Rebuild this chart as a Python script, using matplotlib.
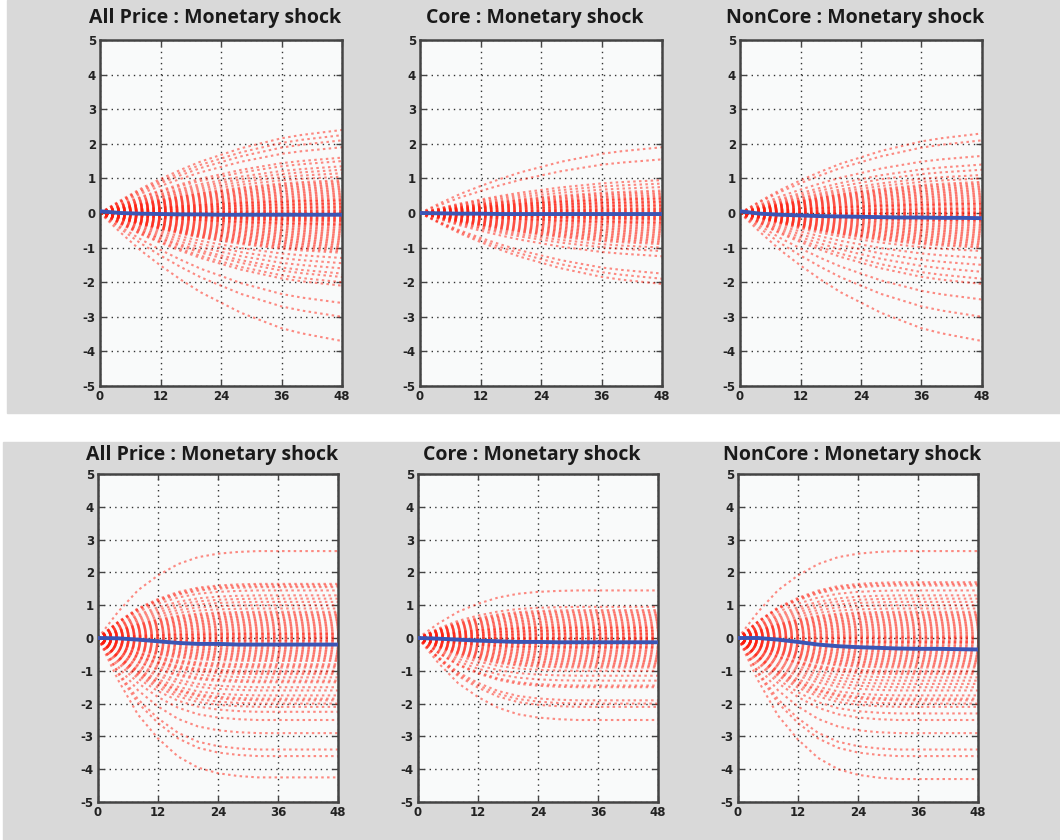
import matplotlib
matplotlib.use("Agg")
import matplotlib.pyplot as plt
from matplotlib.patches import Rectangle
import numpy as np

plt.rcParams["axes.unicode_minus"] = False

# ---------------- data ----------------
months = [0, 4, 8, 12, 16, 20, 24, 28, 32, 36, 40, 44, 48]
titles = ["All Price : Monetary shock", "Core : Monetary shock", "NonCore : Monetary shock"]

# share of final response reached at each month (read from the fans)
profile_top = [0.0, 0.15, 0.29, 0.41, 0.52, 0.62, 0.70, 0.78, 0.84, 0.90, 0.94, 0.97, 1.0]
profile_bottom = [0.0, 0.30, 0.55, 0.72, 0.85, 0.93, 0.97, 0.99, 1.0, 1.0, 1.0, 1.0, 1.0]

# end values (month 48) of each simulated response, per panel
end_top_all = [2.4, 2.25, 2.1, 1.9, 1.6, 1.5, 1.35, 1.25, 1.15, 1.05, 0.95, 0.9,
               0.85, 0.8, 0.75, 0.7, 0.65, 0.6, 0.55, 0.5, 0.45, 0.4, 0.37, 0.35, 0.3,
               0.27, 0.25, 0.2, 0.17, 0.15, 0.1, 0.07, 0.05, 0.02, 0.0,
               -0.02, -0.05, -0.08, -0.1, -0.13, -0.15, -0.18, -0.2, -0.23, -0.25,
               -0.3, -0.33, -0.35, -0.4, -0.45, -0.5, -0.55, -0.6, -0.65, -0.7,
               -0.75, -0.8, -0.85, -0.9, -0.95, -1.0, -1.05, -1.1, -1.15,
               -1.3, -1.45, -1.6, -1.75, -1.85, -2.0, -2.1, -2.6, -3.0, -3.7]
end_top_core = [1.9, 1.55, 0.95, 0.85, 0.75, 0.65, 0.6, 0.55, 0.5,
                0.45, 0.42, 0.4, 0.35, 0.32, 0.3, 0.25, 0.22, 0.2, 0.15, 0.12, 0.1,
                0.07, 0.05, 0.02, 0.0, -0.02, -0.05, -0.08, -0.1, -0.13, -0.15,
                -0.18, -0.2, -0.25, -0.28, -0.3, -0.35, -0.4, -0.45, -0.5, -0.55,
                -0.6, -0.65, -0.7, -0.75, -0.8, -0.85,
                -0.9, -1.0, -1.1, -1.25, -1.75, -1.9, -2.05]
end_top_noncore = [2.3, 2.1, 1.65, 1.4, 1.25, 1.1, 1.0, 0.9, 0.85, 0.8,
                   0.75, 0.7, 0.65, 0.6, 0.55, 0.5, 0.45, 0.4, 0.35, 0.3, 0.27, 0.25,
                   0.2, 0.15, 0.12, 0.1, 0.05, 0.02, 0.0, -0.02, -0.05, -0.08,
                   -0.1, -0.15, -0.2, -0.22, -0.25, -0.3, -0.35, -0.4, -0.45, -0.5,
                   -0.55, -0.6, -0.65, -0.7, -0.75, -0.8, -0.85, -0.9, -0.95, -1.0,
                   -1.1, -1.3, -1.5, -1.7, -1.9, -2.05, -2.5, -3.0, -3.7]
end_bot_all = [2.65, 1.65, 1.6, 1.55, 1.45, 1.3, 1.2, 1.1, 1.0, 0.9, 0.8, 0.75,
               0.7, 0.65, 0.6, 0.55, 0.5, 0.45, 0.4, 0.35, 0.3, 0.25, 0.2, 0.15,
               0.12, 0.1, 0.05, 0.02, 0.0, -0.05, -0.08, -0.1, -0.15, -0.2, -0.25,
               -0.3, -0.35, -0.4, -0.45, -0.5, -0.55, -0.6, -0.65, -0.7, -0.8,
               -0.85, -0.9, -1.0, -1.05,
               -1.1, -1.2, -1.3, -1.35, -1.5, -1.6, -1.75, -1.85, -1.9, -2.0, -2.1,
               -2.25, -2.5, -2.9, -3.4, -3.6, -4.25]
end_bot_core = [1.45, 0.95, 0.85, 0.8, 0.75, 0.7, 0.65, 0.6, 0.55, 0.5,
                0.45, 0.4, 0.35, 0.32, 0.3, 0.25, 0.22, 0.2, 0.15, 0.12, 0.1, 0.05,
                0.02, 0.0, -0.02, -0.05, -0.08, -0.1, -0.15, -0.18, -0.2, -0.25,
                -0.28, -0.3, -0.35, -0.4, -0.45, -0.5, -0.55, -0.6, -0.65, -0.7,
                -0.75, -0.8, -0.85, -0.9, -1.0,
                -1.15, -1.3, -1.45, -1.5, -1.9, -2.0, -2.1, -2.5]
end_bot_noncore = [2.65, 1.7, 1.65, 1.6, 1.45, 1.3, 1.2, 1.1, 1.0, 0.9, 0.8, 0.75,
                   0.7, 0.65, 0.6, 0.55, 0.5, 0.45, 0.4, 0.35, 0.3, 0.25, 0.2, 0.15,
                   0.1, 0.05, 0.02, 0.0, -0.05, -0.1, -0.12, -0.15, -0.2, -0.25,
                   -0.3, -0.35, -0.4, -0.45, -0.5, -0.55, -0.6, -0.65, -0.7, -0.75,
                   -0.8, -0.85, -0.9, -1.0, -1.05,
                   -1.1, -1.2, -1.3, -1.4, -1.5, -1.6, -1.75, -1.85, -1.9, -2.0, -2.1,
                   -2.3, -2.5, -2.9, -3.4, -3.6, -4.3]

# median responses (blue)
med_top_all = [0.05, 0.0, -0.02, -0.03, -0.04, -0.04, -0.05, -0.05, -0.05, -0.05, -0.05, -0.05, -0.05]
med_top_core = [0.0, -0.01, -0.02, -0.02, -0.03, -0.03, -0.03, -0.03, -0.03, -0.03, -0.03, -0.03, -0.03]
med_top_noncore = [0.05, -0.02, -0.05, -0.07, -0.09, -0.10, -0.11, -0.12, -0.13, -0.13, -0.14, -0.14, -0.15]
med_bot_all = [0.0, -0.01, -0.05, -0.10, -0.15, -0.18, -0.18, -0.20, -0.20, -0.20, -0.20, -0.20, -0.20]
med_bot_core = [0.0, -0.02, -0.05, -0.08, -0.10, -0.12, -0.12, -0.13, -0.13, -0.13, -0.13, -0.13, -0.13]
med_bot_noncore = [0.0, 0.0, -0.05, -0.12, -0.20, -0.25, -0.28, -0.30, -0.32, -0.33, -0.33, -0.34, -0.35]

xticks = [0, 12, 24, 36, 48]
yticks = [-5, -4, -3, -2, -1, 0, 1, 2, 3, 4, 5]

# ---------------- figure ----------------
W, H = 1060, 840
fig = plt.figure(figsize=(W / 100, H / 100), dpi=100)
fig.patch.set_facecolor("white")

grey = "#d9d9d9"
fig.patches.append(Rectangle((7 / W, 1 - 413 / H), 1 - 7 / W, 413 / H,
                             transform=fig.transFigure, color=grey, zorder=-10))
fig.patches.append(Rectangle((3 / W, 0), 1 - 3 / W, 1 - 442 / H,
                             transform=fig.transFigure, color=grey, zorder=-10))

rows = [
    dict(top=40, bottom=386, lefts=[100, 420, 740], width=242, prof=profile_top,
         ends=[end_top_all, end_top_core, end_top_noncore],
         meds=[med_top_all, med_top_core, med_top_noncore], pad=12),
    dict(top=474, bottom=802, lefts=[98, 418, 738], width=240, prof=profile_bottom,
         ends=[end_bot_all, end_bot_core, end_bot_noncore],
         meds=[med_bot_all, med_bot_core, med_bot_noncore], pad=10),
]

for row in rows:
    for j in range(3):
        l = row["lefts"][j]
        ax = fig.add_axes([l / W, 1 - row["bottom"] / H, row["width"] / W,
                           (row["bottom"] - row["top"]) / H])
        ax.set_zorder(1)
        ax.set_facecolor("#f9fafa")
        prof = np.array(row["prof"])
        for e in row["ends"][j]:
            ax.plot(months, prof * e, linestyle=(0, (1.2, 1.6)), color="#ff1a0a",
                    alpha=0.5, linewidth=1.5, zorder=2)
        ax.plot(months, row["meds"][j], color="#3b55b5", linewidth=2.8, zorder=3)
        ax.set_xlim(0, 48)
        ax.set_ylim(-5, 5)
        ax.set_xticks(xticks)
        ax.set_yticks(yticks)
        ax.grid(True, color="#333333", linestyle=(0, (1, 3)), linewidth=1.0, zorder=1)
        ax.tick_params(direction="in", length=4, width=1, color="#444444",
                       labelsize=8.5, labelcolor="#222222", pad=3,
                       top=True, right=True)
        for lab in ax.get_xticklabels() + ax.get_yticklabels():
            lab.set_fontweight("bold")
            lab.set_family("DejaVu Sans")
        for s in ax.spines.values():
            s.set_linewidth(1.8)
            s.set_color("#444444")
        ax.set_title(titles[j], fontsize=14, fontweight="bold", family="Open Sans",
                     color="#1a1a1a", pad=row["pad"], x=0.475)

fig.savefig("out.png", dpi=100, facecolor=fig.get_facecolor())
